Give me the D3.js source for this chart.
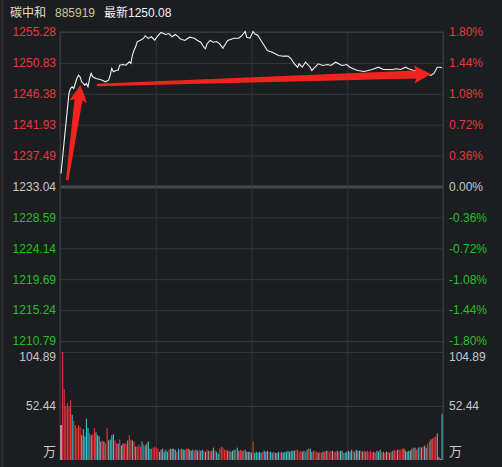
<!DOCTYPE html>
<meta charset="utf-8">
<style>
body { margin: 0; background: #1c1d21; }
text { font-family: 'Liberation Sans', Arial, 'Noto Sans CJK SC', sans-serif; font-size: 12px; }
.grid line { stroke: #35363b; stroke-width: 1; }
.grid path.domain { display: none; }
.axis path.domain { display: none; }
.axis line { display: none; }
</style>
<body>
<script src="https://cdn.jsdelivr.net/npm/d3@7"></script>
<script>

// header
var stockName = "碳中和", stockCode = "885919", lastPrice = "最新1250.08";

// price axis ticks
var preClose = 1233.04;
var priceTicks = [1255.28, 1250.83, 1246.38, 1241.93, 1237.49, 1233.04, 1228.59, 1224.14, 1219.69, 1215.24, 1210.79];
var pctTicks = [1.80, 1.44, 1.08, 0.72, 0.36, 0.00, -0.36, -0.72, -1.08, -1.44, -1.80];
var volTicks = [104.89, 52.44];

// intraday price, sampled (minute index from 9:30, price)
var priceMinute = [0, 3, 5, 6, 7, 8, 9, 10, 11, 12, 13, 14, 15, 16, 17, 18, 19, 20, 22, 24, 26, 28, 30, 31, 32, 33, 35, 36, 37, 39, 41, 43, 44, 45, 46, 47, 48, 50, 52, 53, 55, 57, 59, 61, 63, 66, 68, 70, 72, 74, 75, 78, 81, 84, 86, 88, 90, 91, 92, 94, 96, 98, 100, 102, 103, 105, 109, 112, 114, 116, 117, 119, 121, 122, 124, 126, 128, 130, 133, 135, 137, 140, 143, 145, 147, 149, 150, 152, 154, 157, 158, 160, 162, 165, 168, 170, 173, 177, 180, 182, 184, 187, 191, 196, 200, 203, 206, 209, 211, 214, 217, 219, 222, 226, 229, 233, 235, 237, 239, 240];
var priceValue = [1234.91, 1241.86, 1246.43, 1247.15, 1247.39, 1247.15, 1247.87, 1248.59, 1249.06, 1248.83, 1248.11, 1247.87, 1247.62, 1247.87, 1247.39, 1248.59, 1249.31, 1248.83, 1248.59, 1248.49, 1248.34, 1248.11, 1248.34, 1249.06, 1250.03, 1249.55, 1249.78, 1249.78, 1250.50, 1250.60, 1250.50, 1250.99, 1250.75, 1251.94, 1252.66, 1253.15, 1253.87, 1254.10, 1254.35, 1254.73, 1254.35, 1254.59, 1254.10, 1254.73, 1255.21, 1254.92, 1255.06, 1254.59, 1254.92, 1254.59, 1254.30, 1254.06, 1254.53, 1254.39, 1254.06, 1253.81, 1253.09, 1252.86, 1253.58, 1254.06, 1253.81, 1253.91, 1253.58, 1252.95, 1253.34, 1254.06, 1254.39, 1254.39, 1254.78, 1255.35, 1254.53, 1254.39, 1255.35, 1255.02, 1254.78, 1254.06, 1253.34, 1252.62, 1252.37, 1252.14, 1251.90, 1251.80, 1251.80, 1251.42, 1250.70, 1250.21, 1250.70, 1250.21, 1250.93, 1250.21, 1249.74, 1250.21, 1250.70, 1250.46, 1250.60, 1250.46, 1250.93, 1250.46, 1250.60, 1250.21, 1249.98, 1249.74, 1249.59, 1249.88, 1250.21, 1249.88, 1249.88, 1249.88, 1249.98, 1249.88, 1250.21, 1249.98, 1249.74, 1249.74, 1249.45, 1249.02, 1249.35, 1250.21, 1250.21, 1250.08];

// volume per minute (万), one bar per minute 0..240
var volume = [34, 104.89, 69, 52, 55, 52, 58, 44, 38, 34, 31, 34, 32, 24, 30, 23, 40, 31, 26, 24,
  25, 31, 27, 24, 23, 18, 19, 18, 16, 31, 19, 20, 24, 25, 19, 16, 16, 20, 14, 16,
  16, 16, 19, 24, 20, 19, 18, 13, 13, 15, 13, 18, 15, 14, 16, 18, 11, 11, 12, 13,
  12, 11, 8, 10, 11, 8, 10, 8, 10, 11, 11, 11, 10, 8, 11, 10, 11, 10, 10, 11,
  11, 10, 9, 10, 9, 10, 9, 10, 9, 10, 9, 8, 10, 9, 8, 9, 12, 9, 8, 6,
  11, 13, 12, 10, 10, 9, 9, 8, 9, 10, 10, 12, 9, 10, 9, 9, 10, 8, 8, 8,
  7, 18, 7, 8, 7, 8, 7, 8, 9, 8, 9, 8, 8, 7, 8, 7, 7, 8, 7, 8,
  7, 8, 8, 9, 8, 9, 9, 9, 10, 10, 8, 9, 8, 9, 8, 10, 11, 11, 8, 9,
  9, 8, 7, 8, 7, 8, 8, 9, 9, 8, 9, 9, 8, 8, 9, 8, 9, 9, 7, 7,
  8, 9, 8, 10, 9, 8, 10, 9, 9, 9, 8, 9, 8, 9, 8, 9, 7, 8, 7, 9,
  8, 10, 7, 8, 7, 8, 8, 7, 8, 9, 10, 9, 10, 10, 10, 11, 11, 9, 8, 9,
  9, 11, 12, 12, 10, 12, 13, 12, 13, 14, 12, 16, 18, 20, 21, 22, 23, 26, 3, 1,
  45];
// bar colour per minute: w = open, r = up, c = down, g = flat
var volumeDir = ("wrrrrrrcrrrrrcgcccrg" + "rrcgcgrgrrgcccrrgrcg" + "rrgrrgrgrrrcrcgccrrr" +
  "rrcggcccrggccrcrcgcr" + "gcgcrgcrgcrcrgrccrcc" + "rrrrrgrcgcrcgrgrcggc" +
  "grcccgcrcgcrcgrcgcrc" + "gcccgccgrrrrgcrcrcgr" + "rrgrrgrgrrrgrrgrcgrc" +
  "cgccrcgcgrgrgrrrrgrg" + "cgrgrgrgrgrrgrrrgcgc" + "ggrgrcrcrggrrgrrrggg" + "c").split("");

// hand-drawn annotation arrows, in (minute, price)
var arrowFrom = [[3.9, 1233.95], [22.6, 1247.65]];
var arrowTo = [[12.3, 1247.65], [233.1, 1249.24]];

var width = 502, height = 467;
var left = 61, right = 442;
var frameL = 60, frameR = 443;

var svg = d3.select("body").append("svg")
    .attr("width", width)
    .attr("height", height);

svg.append("rect").attr("width", width).attr("height", height).attr("fill", "#1c1d21");
svg.append("line").attr("x1", 2.5).attr("x2", 2.5).attr("y1", 0).attr("y2", height)
    .attr("stroke", "#2c2d32").attr("stroke-width", 2);

var x = d3.scaleLinear().domain([0, 240]).range([left, right]);
var y = d3.scaleLinear().domain([1210.79, 1255.28]).range([341, 32]);
var yPct = d3.scaleLinear().domain([-1.8, 1.8]).range([341, 32]);
var yVol = d3.scaleLinear().domain([0, 104.89]).range([460, 352]);

// horizontal grid, price panel
svg.append("g")
    .attr("class", "grid")
    .attr("transform", "translate(" + frameL + ",0)")
    .call(d3.axisRight(y).tickValues(priceTicks).tickSize(frameR - frameL).tickFormat(""))
    .selectAll("line")
    .filter(function(d) { return d === preClose; })
    .style("stroke", "#47484d").style("stroke-width", 3);

// horizontal grid, volume panel
svg.append("g")
    .attr("class", "grid")
    .attr("transform", "translate(" + frameL + ",0)")
    .call(d3.axisRight(yVol).tickValues(volTicks).tickSize(frameR - frameL).tickFormat(""));

// vertical grid (every hour)
var xGrid = [0, 60, 120, 180, 240];
var xg = d3.scaleLinear().domain([0, 240]).range([frameL, frameR]);
svg.append("g")
    .attr("class", "grid")
    .attr("transform", "translate(0,32)")
    .call(d3.axisBottom(xg).tickValues(xGrid).tickSize(460 - 32).tickFormat(""));

var red = "#e5393c", green = "#21c021", grey = "#c8c8c8";

// left price labels
var la = svg.append("g")
    .attr("class", "axis")
    .attr("transform", "translate(56,0)")
    .call(d3.axisLeft(y).tickValues(priceTicks).tickSize(0).tickPadding(0)
      .tickFormat(function(d) { return d.toFixed(2); }));
la.selectAll("text").attr("fill", function(d) {
  if (d === preClose) return grey;
  return d > preClose ? red : green;
});

// right percent labels
var ra = svg.append("g")
    .attr("class", "axis")
    .attr("transform", "translate(449,0)")
    .call(d3.axisRight(yPct).tickValues(pctTicks).tickSize(0).tickPadding(0)
      .tickFormat(function(d) { return d.toFixed(2) + "%"; }));
ra.selectAll("text").attr("fill", function(d) {
  if (d === 0) return grey;
  return d > 0 ? red : green;
});

// volume labels both sides
[[56, "end"], [449, "start"]].forEach(function(s) {
  svg.append("g").selectAll("text")
      .data(volTicks)
    .enter().append("text")
      .attr("x", s[0])
      .attr("y", function(d, i) { return yVol(d) + (i === 0 ? 5 : 0); })
      .attr("dy", "0.35em")
      .attr("text-anchor", s[1])
      .attr("fill", grey)
      .text(function(d) { return d.toFixed(2); });
  svg.append("text")
      .attr("x", s[0])
      .attr("y", 451)
      .attr("dy", "0.35em")
      .attr("text-anchor", s[1])
      .attr("fill", grey)
      .style("font-size", "13px")
      .text("万");
});

// frame
svg.append("path")
    .attr("d", "M" + frameL + ",460V32H" + frameR + "V460")
    .attr("fill", "none")
    .attr("stroke", "#3a3b40");

// volume bars
var dirColor = { w: "#f0f0f0", r: "#e8333a", c: "#35c2cc", g: "#9d9da3" };
svg.append("g").selectAll("rect")
    .data(volume)
  .enter().append("rect")
    .attr("x", function(d, i) { return x(i) - 0.5; })
    .attr("width", 1.1)
    .attr("y", function(d) { return yVol(d); })
    .attr("height", function(d) { return yVol(0) - yVol(d); })
    .attr("fill", function(d, i) { return dirColor[volumeDir[i]]; });

// price line
var line = d3.line()
    .x(function(d) { return x(d[0]); })
    .y(function(d) { return y(d[1]); });
svg.append("path")
    .datum(priceMinute.map(function(m, i) { return [m, priceValue[i]]; }))
    .attr("d", line)
    .attr("fill", "none")
    .attr("stroke", "#f2f2f2")
    .attr("stroke-width", 1.1);

// annotation arrows: tapered shaft + head
function arrowPath(a, b) {
  var x0 = x(a[0]), y0 = y(a[1]), x1 = x(b[0]), y1 = y(b[1]);
  var dx = x1 - x0, dy = y1 - y0, len = Math.sqrt(dx * dx + dy * dy);
  var ux = dx / len, uy = dy / len, nx = -uy, ny = ux;
  var headLen = 17, headW = 9, tailW = 1.3, neckW = 4;
  var bx = x1 - ux * headLen, by = y1 - uy * headLen;
  var pts = [
    [x0 + nx * tailW, y0 + ny * tailW],
    [bx + nx * neckW + ux * 2, by + ny * neckW + uy * 2],
    [bx + nx * headW, by + ny * headW],
    [x1, y1],
    [bx - nx * headW, by - ny * headW],
    [bx - nx * neckW + ux * 2, by - ny * neckW + uy * 2],
    [x0 - nx * tailW, y0 - ny * tailW]
  ];
  return "M" + pts.map(function(p) { return p[0].toFixed(1) + "," + p[1].toFixed(1); }).join("L") + "Z";
}
svg.append("g").selectAll("path")
    .data(arrowFrom)
  .enter().append("path")
    .attr("d", function(d, i) { return arrowPath(d, arrowTo[i]); })
    .attr("fill", "#f0241f");

// header
var header = svg.append("text").attr("x", 10).attr("y", 13).attr("dy", "0.35em");
header.append("tspan").attr("fill", "#e2e2c4").text(stockName);
header.append("tspan").attr("x", 55).attr("fill", "#cccc88").text(stockCode);
header.append("tspan").attr("x", 104).attr("fill", "#f4f4f4").text(lastPrice);

</script>
</body>
